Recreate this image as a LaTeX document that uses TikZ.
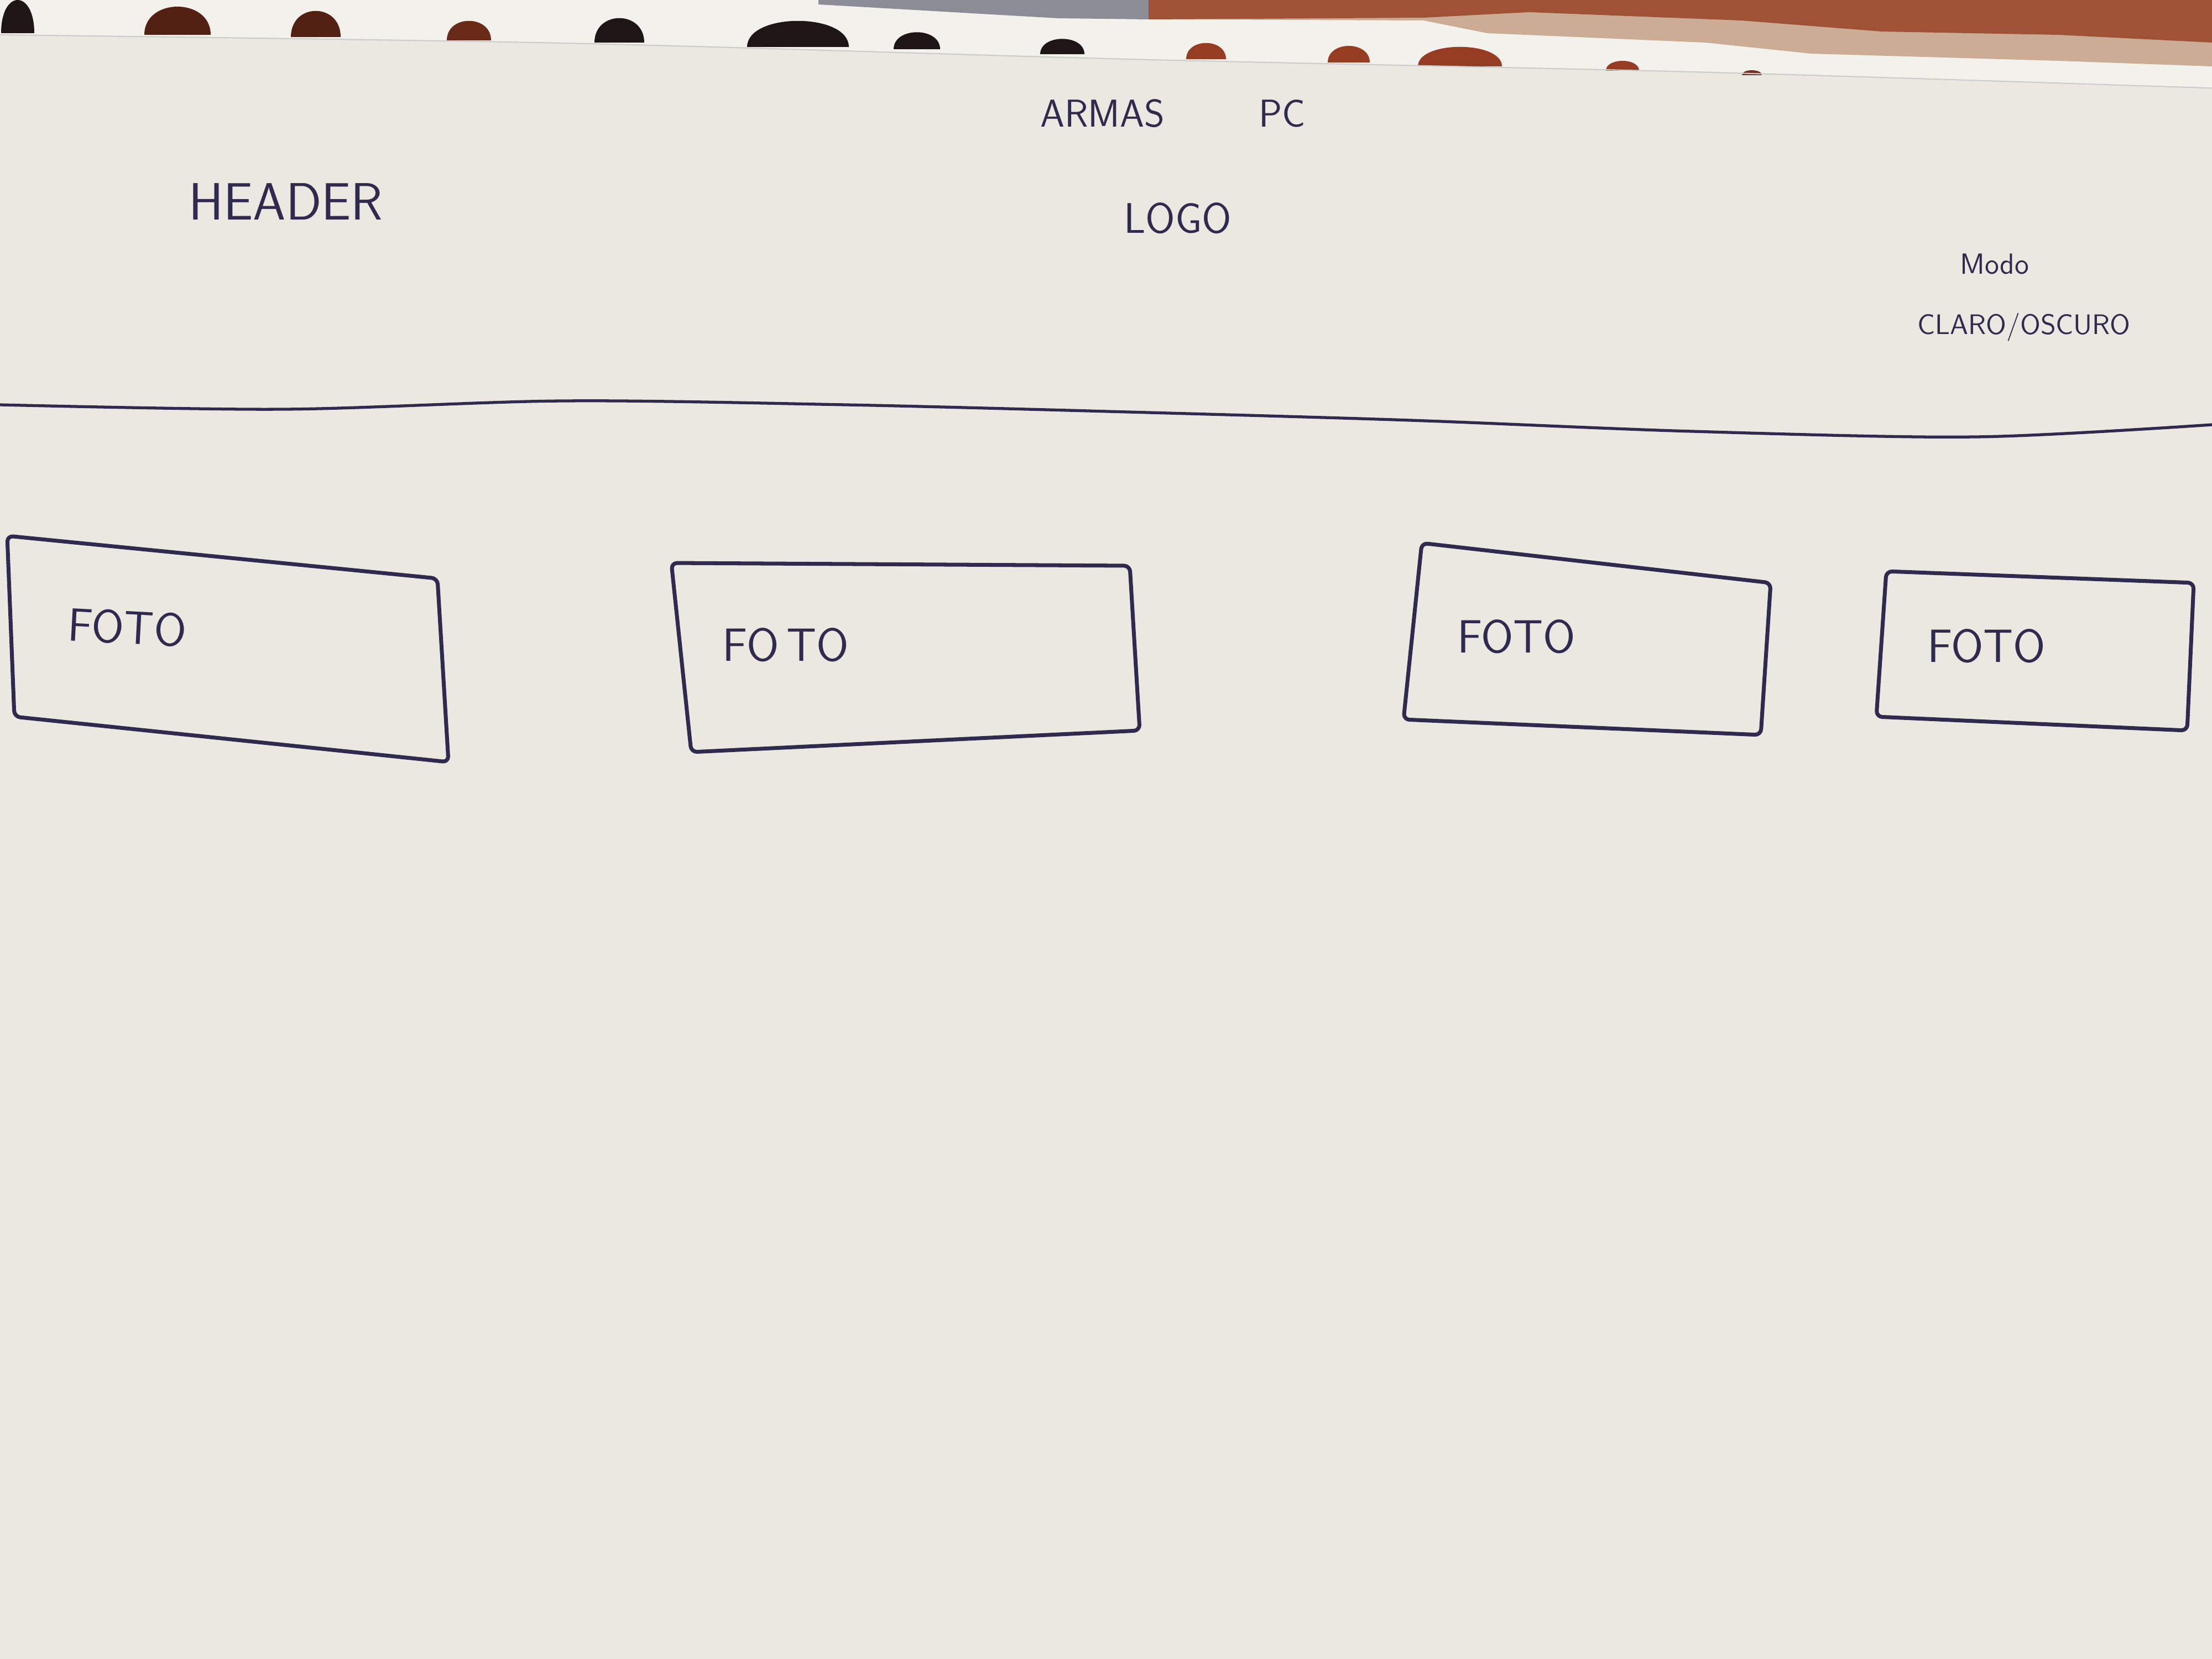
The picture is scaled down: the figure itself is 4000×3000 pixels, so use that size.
\documentclass[tikz,border=0pt]{standalone}
\usepackage{tikz}
\usetikzlibrary{positioning}
\usepackage{xcolor}
\definecolor{ink}{RGB}{48,42,78}
\definecolor{paper}{RGB}{234,232,224}
\definecolor{strip}{RGB}{242,241,236}
\definecolor{holedark}{RGB}{30,22,22}
\definecolor{holebrown}{RGB}{150,60,35}
\definecolor{cloth}{RGB}{160,82,55}
\definecolor{fringe}{RGB}{205,172,150}
\definecolor{mesh}{RGB}{140,140,150}

\begin{document}
\begin{tikzpicture}[x=0.01cm, y=-0.01cm,
    pen/.style={draw=ink, line width=2pt, line join=round, rounded corners=3pt},
    hand/.style={text=ink, font=\sffamily, inner sep=0pt},
    big/.style={hand, font=\sffamily\fontsize{24}{28}\selectfont}]
                \useasboundingbox (0,0) rectangle (4000,3000);
                \fill[paper] (0,0) rectangle (4000,3000);
                % top of the sheet, with the holes
                \fill[strip] (0,0) -- (4000,0) -- (4000,160) -- (3929,157) -- (3061,130) -- (2040,107) -- (1020,78) -- (0,63) -- cycle;
                \fill[mesh] (1480,0) -- (2077,0) -- (2077,35) -- (1913,33) -- (1480,8) -- cycle;
                \fill[fringe] (2077,0) -- (4000,0) -- (4000,120) -- (3722,110) -- (3275,97) -- (3084,77) -- (2689,60) -- (2574,37) -- (2077,35) -- cycle;
                \fill[cloth] (2077,0) -- (4000,0) -- (4000,77) -- (3722,63) -- (3403,57) -- (3148,37) -- (2765,22) -- (2574,32) -- (2077,35) -- cycle;
                \foreach \hx/\rx/\yt/\yb/\hc in {32/30/0/60/holedark, 321/60/12/63/holebrown!55!black, 571/45/20/67/holebrown!55!black,
                    848/40/38/73/holebrown!70!black, 1120/45/33/77/holedark, 1443/92/38/85/holedark, 1658/42/58/89/holedark,
                    1921/40/70/98/holedark, 2181/36/78/107/holebrown, 2439/38/83/113/holebrown, 2640/76/85/120/holebrown,
                    2934/30/110/128/holebrown, 3168/18/127/136/holebrown!80!black}
                    \fill[\hc] ({\hx-\rx},\yb) .. controls ({\hx-\rx},{\yb+(\yt-\yb)*4/3}) and ({\hx+\rx},{\yb+(\yt-\yb)*4/3}) .. ({\hx+\rx},\yb) -- cycle;
                \draw[gray!40, line width=0.6pt] plot[smooth] coordinates {(0,63) (1020,78) (2040,107) (3061,130) (3929,157) (4000,160)};

                % header texts
                \node[hand, font=\sffamily\fontsize{20}{24}\selectfont](titulo) at (2121,205){ARMAS\hspace{1.7cm}PC};
                \node[hand, font=\sffamily\fontsize{22}{26}\selectfont](logo) at (2130,395){LOGO};
                \node[hand, font=\sffamily\fontsize{27}{32}\selectfont](header) at (517,365){HEADER};
                \node[hand, font=\sffamily\fontsize{15}{18}\selectfont](modo) at (3607,477){Modo};
                \node[hand, font=\sffamily\fontsize{14.5}{17}\selectfont](claro) at (3660,592){CLARO/OSCURO};

                % divider under the header
                \draw[pen, line width=1.5pt] plot[smooth] coordinates {(0,732) (510,740) (1020,725) (1530,732) (2040,745) (2550,760) (3060,780) (3570,790) (4000,768)};

                % photo boxes
                \draw[pen] (13,969) -- (791,1046) -- (811,1378) -- (26,1296) -- cycle;
                \draw[pen] (1214,1018) -- (2043,1023) -- (2061,1321) -- (1250,1360) -- cycle;
                \draw[pen] (2571,982) -- (3202,1054) -- (3184,1329) -- (2538,1301) -- cycle;
                \draw[pen] (3411,1033) -- (3967,1054) -- (3955,1321) -- (3393,1296) -- cycle;
                \node[big, rotate=-3](foto1) at (230,1135){FOTO};
                \node[big](foto2) at (1421,1166){FO\,TO};
                \node[big](foto3) at (2742,1151){FOTO};
                \node[big](foto4) at (3592,1168){FOTO};
                \end{tikzpicture}
\end{document}
